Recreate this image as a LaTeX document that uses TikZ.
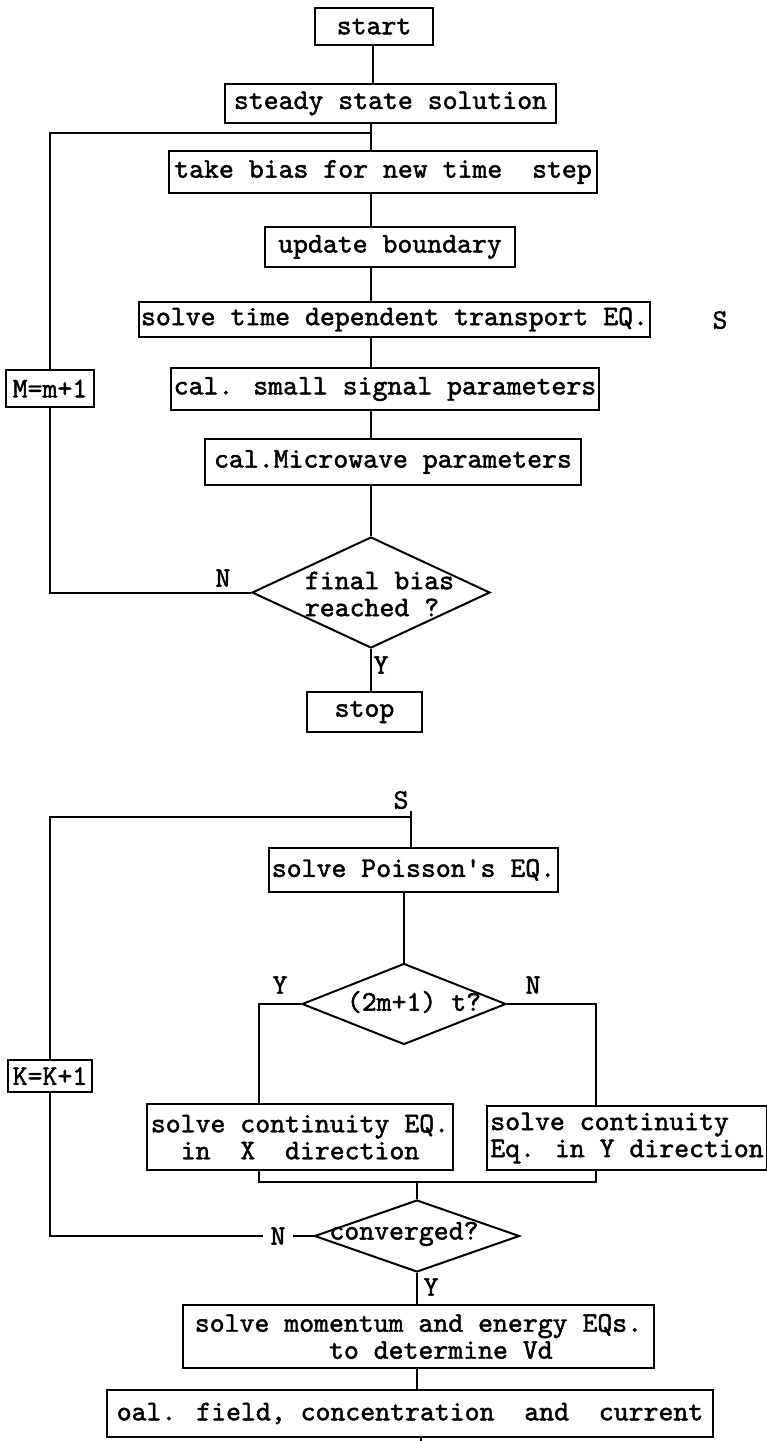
\documentclass[tikz,border=0pt]{standalone}
\usepackage{fontspec}
\usetikzlibrary{shapes.geometric}
\newfontfamily\twfam{lmmono10-regular.otf}[FakeBold=1.6]
\newcommand\twf{\fontsize{28.4}{27}\selectfont\twfam}
\tikzset{
 ln/.style={line width=2pt},
 box/.style={draw, line width=2pt, inner sep=0pt, font=\twf, align=center},
 dia/.style={draw, diamond, line width=2pt, inner sep=0pt},
 lbl/.style={font=\twf, inner sep=2pt},
}
\begin{document}
\begin{tikzpicture}[x=1pt,y=-1pt]
\useasboundingbox (0,0) rectangle (767,1441);
% ---- first chart
\node[box,minimum width=118pt,minimum height=37pt] (start) at (374,26.5) {start};
\node[box,minimum width=331pt,minimum height=39pt] (steady) at (390.5,103.5) {steady state solution};
\node[box,minimum width=428pt,minimum height=42pt] (take) at (383,172) {take bias for new time\ \ step};
\node[box,minimum width=250pt,minimum height=40pt] (upd) at (390,247) {update boundary};
\node[box,minimum width=511pt,minimum height=35pt] (tdep) at (394.5,319.5) {solve time dependent transport EQ.};
\node[lbl] (s1) at (720,320) {S};
\node[box,minimum width=88pt,minimum height=37pt] (mm) at (50,388.5) {M=m+1};
\node[box,minimum width=428pt,minimum height=42pt] (small) at (385,389) {cal. small signal parameters};
\node[box,minimum width=376pt,minimum height=46pt] (micro) at (393,462) {cal.Microwave parameters};
\node[dia,minimum width=238pt,minimum height=111pt] (d1) at (371,592.5) {};
\node[font=\twf,align=left,inner sep=0pt] (d1t) at (379.5,594) {final bias\\reached ?};
\node[lbl] (n1) at (223,578) {N};
\node[lbl] (y1) at (381,665) {Y};
\node[box,minimum width=115pt,minimum height=40pt] (stop) at (364.5,712) {stop};
% ---- second chart
\node[lbl] (s2) at (401,800) {S};
\node[box,minimum width=289pt,minimum height=44pt] (pois) at (413.5,870) {solve Poisson's EQ.};
\node[dia,minimum width=204pt,minimum height=81pt] (d2) at (404,1004) {};
\node[font=\twf,inner sep=0pt] (d2t) at (414,1002) {(2m+1) t?};
\node[lbl] (y2) at (280,985) {Y};
\node[lbl] (n2) at (533,985) {N};
\node[box,minimum width=84pt,minimum height=32pt] (kk) at (50,1076) {K=K+1};
\node[box,minimum width=306pt,minimum height=66pt] (cx) at (300,1137) {solve continuity EQ.\\in\ \ X\ \ direction};
\node[box,minimum width=280pt,minimum height=64pt,align=left] (cy) at (627,1138) {solve continuity\\Eq. in Y direction};
\node[dia,minimum width=205pt,minimum height=72pt] (conv) at (417,1236) {};
\node[font=\twf,inner sep=0pt] (convt) at (404,1234) {converged?};
\node[lbl,inner xsep=7pt] (n3) at (278,1236) {N};
\node[lbl] (y3) at (431,1287) {Y};
\node[box,minimum width=471pt,minimum height=63pt,align=left] (mom) at (418.5,1336.5) {solve momentum and energy EQs.\\\phantom{solve mom}to determine Vd};
\node[box,minimum width=606pt,minimum height=47pt] (field) at (410,1413.5) {oal. field, concentration\ \ and\ \ current};
% ---- coordinates
\coordinate (ta) at (373,0);
\coordinate (tb) at (371,0);
\coordinate (l1) at (50,133);
\coordinate (l2) at (50,817);
\coordinate (bl) at (259,0);
\coordinate (br) at (596,0);
\coordinate (bm) at (0,1182);
\coordinate (tc) at (406,0);
\coordinate (tm) at (419,0);
\coordinate (fin) at (421,1441);
% ---- connectors, first chart
\draw[ln] (ta |- start.south) -- (ta |- steady.north);
\draw[ln] (tb |- steady.south) -- (tb |- take.north);
\draw[ln] (tb |- take.south) -- (tb |- upd.north);
\draw[ln] (tb |- upd.south) -- (tb |- tdep.north);
\draw[ln] (tb |- tdep.south) -- (tb |- small.north);
\draw[ln] (tb |- small.south) -- (tb |- micro.north);
\draw[ln] (tb |- micro.south) -- (d1.north);
\draw[ln] (d1.south) -- (d1.south |- stop.north);
\draw[ln] (mm.north) -- (mm.north |- l1) -- (l1 -| tb);
\draw[ln] (mm.south) -- (mm.south |- d1.west) -- (d1.west);
% ---- connectors, second chart
\draw[ln] (s2.south east) -- (s2.south east |- pois.north);
\draw[ln] (kk.north) -- (kk.north |- l2) -- (l2 -| s2.south east);
\draw[ln] (d2.north |- pois.south) -- (d2.north);
\draw[ln] (d2.west) -- (d2.west -| bl) -- (bl |- cx.north);
\draw[ln] (d2.east) -- (d2.east -| br) -- (br |- cy.north);
\draw[ln] (bl |- cx.south) -- (bl |- bm) -- (br |- bm) -- (br |- cy.south);
\draw[ln] (conv.north) -- (conv.north |- bm);
\draw[ln] (kk.south) -- (kk.south |- conv.west) -- (n3.west);
\draw[ln] (n3.east) -- (conv.west);
\draw[ln] (conv.south) -- (conv.south |- mom.north);
\draw[ln] (conv.south |- mom.south) -- (conv.south |- field.north);
\draw[ln] (fin |- field.south) -- (fin);
\end{tikzpicture}
\end{document}
